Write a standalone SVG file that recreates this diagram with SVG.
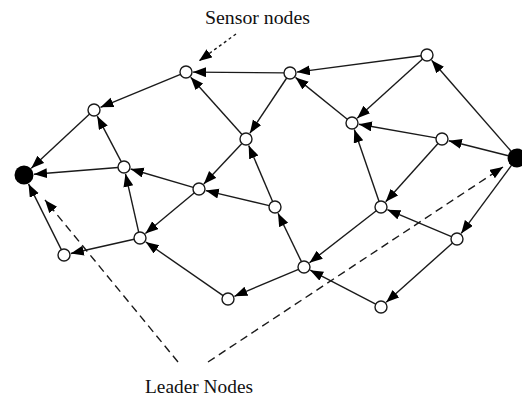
<svg xmlns="http://www.w3.org/2000/svg" width="522" height="399" viewBox="0 0 522 399">
<defs>
<marker id="ah" markerUnits="userSpaceOnUse" markerWidth="14" markerHeight="11" refX="13" refY="5" orient="auto">
<path d="M0,0 L13,5 L0,10 z" fill="#000"/>
</marker>
</defs>
<style>
.e{stroke:#1a1a1a;stroke-width:1.4;fill:none;marker-end:url(#ah)}
.d{stroke:#1a1a1a;stroke-width:1.4;fill:none;marker-end:url(#ah)}
.ds{stroke-dasharray:3 3}
.dl{stroke-dasharray:8 5}
.n{fill:#fff;stroke:#1a1a1a;stroke-width:1.4}
.ld{fill:#000}
.t{font-family:"Liberation Serif","Times New Roman",serif;font-size:19px;fill:#111}
</style>
<rect width="522" height="399" fill="#fff"/>
<g id="connectors">
<line class="e" x1="284" y1="72.9" x2="193" y2="72.1"/>
<line class="e" x1="421.1" y1="55.8" x2="296.9" y2="72.1"/>
<line class="e" x1="180.5" y1="74.3" x2="100.5" y2="107.3"/>
<line class="e" x1="89.6" y1="114.1" x2="31.3" y2="168.2"/>
<line class="e" x1="242" y1="134.5" x2="190.7" y2="77.2"/>
<line class="e" x1="286.7" y1="78" x2="249.9" y2="133.2"/>
<line class="e" x1="422.6" y1="59" x2="357.2" y2="118.3"/>
<line class="e" x1="347.3" y1="119.2" x2="295.5" y2="77.4"/>
<line class="e" x1="511.1" y1="151.2" x2="431.6" y2="60.3"/>
<line class="e" x1="436.1" y1="137.9" x2="358.9" y2="124.2"/>
<line class="e" x1="508.3" y1="155.8" x2="448.8" y2="140.7"/>
<line class="e" x1="241.9" y1="143.4" x2="203.8" y2="183.9"/>
<line class="e" x1="272.6" y1="201.5" x2="248.7" y2="145.4"/>
<line class="e" x1="269.2" y1="205.6" x2="205.8" y2="190.6"/>
<line class="e" x1="193.2" y1="187.3" x2="130.7" y2="169"/>
<line class="e" x1="121.2" y1="161.7" x2="97.3" y2="116.2"/>
<line class="e" x1="118" y1="167.5" x2="34" y2="174.2"/>
<line class="e" x1="194.4" y1="192.8" x2="145.4" y2="233.5"/>
<line class="e" x1="138.7" y1="232.1" x2="125.5" y2="173.8"/>
<line class="e" x1="134.1" y1="239.3" x2="70.8" y2="253.5"/>
<line class="e" x1="61.3" y1="249.6" x2="28.5" y2="183.9"/>
<line class="e" x1="301.4" y1="261.6" x2="278" y2="213.3"/>
<line class="e" x1="376.3" y1="210.7" x2="309.5" y2="262.7"/>
<line class="e" x1="375.7" y1="304.2" x2="310.2" y2="270.2"/>
<line class="e" x1="298.5" y1="269.3" x2="234.4" y2="296.3"/>
<line class="e" x1="223.1" y1="295.6" x2="145.8" y2="242"/>
<line class="e" x1="451.5" y1="236.7" x2="387.4" y2="209.7"/>
<line class="e" x1="452.5" y1="243" x2="386.2" y2="302.3"/>
<line class="e" x1="511.6" y1="165.2" x2="461.2" y2="233.4"/>
<line class="e" x1="438" y1="143.5" x2="385.7" y2="201.8"/>
<line class="e" x1="379" y1="201.3" x2="354.3" y2="129.6"/>
<line class="d ds" x1="236" y1="34" x2="199" y2="61"/>
<line class="d dl" x1="178" y1="362" x2="45" y2="200"/>
<line class="d dl" x1="208" y1="362" x2="503" y2="167"/>
</g>
<g id="A"><circle class="n" cx="186" cy="72" r="6"/></g>
<g id="B"><circle class="n" cx="290" cy="73" r="6"/></g>
<g id="C"><circle class="n" cx="427" cy="55" r="6"/></g>
<g id="D"><circle class="n" cx="94" cy="110" r="6"/></g>
<g id="E"><circle class="n" cx="352" cy="123" r="6"/></g>
<g id="F"><circle class="n" cx="246" cy="139" r="6"/></g>
<g id="G"><circle class="n" cx="442" cy="139" r="6"/></g>
<g id="H"><circle class="n" cx="124" cy="167" r="6"/></g>
<g id="I"><circle class="n" cx="199" cy="189" r="6"/></g>
<g id="J"><circle class="n" cx="275" cy="207" r="6"/></g>
<g id="K"><circle class="n" cx="381" cy="207" r="6"/></g>
<g id="L"><circle class="n" cx="140" cy="238" r="6"/></g>
<g id="M"><circle class="n" cx="457" cy="239" r="6"/></g>
<g id="N"><circle class="n" cx="64" cy="255" r="6"/></g>
<g id="O"><circle class="n" cx="304" cy="267" r="6"/></g>
<g id="P"><circle class="n" cx="228" cy="299" r="6"/></g>
<g id="Q"><circle class="n" cx="381" cy="307" r="6"/></g>
<g id="leader-left"><circle class="ld" cx="24" cy="175" r="9.5"/></g>
<g id="leader-right"><circle class="ld" cx="517" cy="158" r="9.5"/></g>
<g id="label-sensor"><text class="t" x="205" y="24" textLength="105" lengthAdjust="spacingAndGlyphs">Sensor nodes</text></g>
<g id="label-leader"><text class="t" x="145" y="393" textLength="108" lengthAdjust="spacingAndGlyphs">Leader Nodes</text></g>
</svg>
